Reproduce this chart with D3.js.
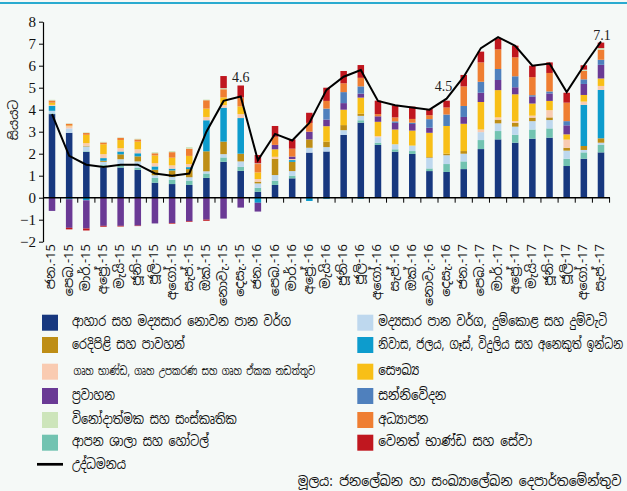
<!DOCTYPE html>
<html>
<head>
<meta charset="utf-8">
<script src="https://cdn.jsdelivr.net/npm/d3@7"></script>
<style>
  html, body { margin: 0; padding: 0; background: #f5f9f7; }
  svg { display: block; }
  .num { font-family: "Liberation Serif", "DejaVu Serif", serif; }
  .si { font-family: "Noto Sans Sinhala", "Iskoola Pota", "Noto Sans", "DejaVu Sans", sans-serif; }
</style>
</head>
<body>
<svg id="chart" width="627" height="491"></svg>
<script>
// Months, Jan 2015 – Sep 2017
const months = ["ජන.-15","පෙබ.-15","මාර්.-15","අප්‍රේ.-15","මැයි-15","ජූනි-15","ජූලි-15","අගෝ.-15","සැප්.-15","ඔක්.-15","නොවැ.-15","දෙසැ.-15",
  "ජන.-16","පෙබ.-16","මාර්.-16","අප්‍රේ.-16","මැයි-16","ජූනි-16","ජූලි-16","අගෝ.-16","සැප්.-16","ඔක්.-16","නොවැ.-16","දෙසැ.-16",
  "ජන.-17","පෙබ.-17","මාර්.-17","අප්‍රේ.-17","මැයි-17","ජූනි-17","ජූලි-17","අගෝ.-17","සැප්.-17"];

// Contributions to inflation by CCPI group (percentage points), in stacking order
const food =          [3.80,2.95,2.08,1.38,1.37,1.27,0.68,0.62,0.58,0.90,1.63,1.22, 0.27,0.58,0.88,2.05,2.10,2.85,3.41,2.40,2.09,1.99,1.21,1.17, 1.30,2.21,2.65,2.50,2.68,2.73,1.44,1.77,2.06];
const restaurants =   [0.03,0.00,0.03,0.10,0.10,0.08,0.22,0.20,0.20,0.20,0.20,0.18, 0.18,0.19,0.12,0.00,0.00,0.00,0.11,0.10,0.11,0.13,0.12,0.36, 0.35,0.41,0.38,0.36,0.42,0.42,0.33,0.29,0.34];
const alcohol =       [0.12,0.20,0.22,0.15,0.28,0.30,0.12,0.12,0.15,0.10,0.15,0.25, 0.20,0.26,0.21,0.22,0.20,0.22,0.20,0.25,0.23,0.25,0.49,0.40, 0.35,0.36,0.35,0.37,0.38,0.38,0.37,0.11,0.10];
const clothing =      [0.00,0.00,0.03,0.05,0.22,0.23,0.25,0.30,0.37,0.91,0.57,0.35, 0.08,0.74,0.42,0.38,0.25,0.23,0.10,0.00,0.00,0.00,0.03,0.07, 0.12,0.00,0.17,0.17,0.16,0.12,0.13,0.18,0.20];
const housing =       [0.22,-0.07,-0.12,0.12,0.13,0.14,0.15,0.08,0.09,1.41,1.54,1.62, -0.23,0.00,0.08,-0.15,-0.05,-0.03,-0.05,0.00,0.00,0.00,0.00,0.00, 0.00,0.00,0.00,0.00,0.00,0.00,0.00,1.87,2.20];
const furnishings =   [0.05,0.10,0.12,0.18,0.15,0.18,0.15,0.15,0.14,0.15,0.12,0.18, 0.12,0.09,0.05,0.00,0.00,0.00,0.00,0.05,0.00,0.00,0.00,0.00, 0.00,0.12,0.10,0.08,0.09,0.33,0.37,0.15,0.18];
const health =        [0.10,0.03,0.38,0.45,0.37,0.35,0.35,0.35,0.37,0.38,0.35,0.35, 0.30,0.34,0.00,0.00,0.70,0.70,0.73,0.65,0.67,0.68,1.10,1.26, 1.24,1.25,1.24,1.22,0.55,0.42,0.24,0.30,0.34];
const transport =     [-0.60,-1.30,-1.28,-1.28,-1.28,-1.27,-1.17,-1.15,-1.07,-1.00,-0.95,-0.45, -0.40,0.20,0.11,0.35,0.30,0.30,0.18,0.25,0.30,0.30,0.23,0.00, 0.31,0.42,0.46,0.32,0.32,0.34,0.41,0.50,0.62];
const communication = [0.00,0.00,0.00,0.00,0.00,0.00,0.00,0.00,0.00,0.00,0.00,0.00, 0.00,0.00,0.00,0.00,0.50,0.50,0.33,0.00,0.07,0.06,0.39,0.52, 0.50,0.50,0.50,0.50,0.06,0.09,0.19,0.21,0.23];
const education =     [0.10,0.08,0.08,0.08,0.10,0.10,0.10,0.25,0.33,0.38,0.37,0.38, 0.38,0.37,0.36,0.40,0.35,0.40,0.39,0.10,0.18,0.17,0.18,0.32, 0.89,0.88,0.89,0.86,0.82,0.84,0.84,0.38,0.46];
const recreation =    [0.03,0.02,0.03,0.03,0.02,0.03,0.05,0.05,0.07,0.03,0.05,0.02, 0.03,0.00,0.00,0.00,0.00,0.00,0.00,0.00,0.00,0.00,0.00,0.00, 0.00,0.00,0.00,0.00,0.00,0.00,0.00,0.06,0.07];
const misc =          [0.00,-0.07,-0.09,-0.04,-0.03,-0.02,0.00,-0.03,-0.03,-0.05,0.55,0.55, 0.38,0.49,0.42,0.46,0.60,0.56,0.58,0.61,0.55,0.56,0.28,0.31, 0.52,0.49,0.50,0.53,0.52,0.48,0.45,0.20,0.25];

// Year-on-year inflation (%)
const inflation = [3.8,1.9,1.5,1.4,1.5,1.5,1.1,1.0,1.1,3.0,4.4,4.6, 1.7,2.9,2.6,3.4,4.9,5.5,5.8,4.4,4.2,4.1,4.0,4.5, 5.5,6.8,7.3,6.9,6.0,6.1,4.8,6.0,7.1];
const yTicks = [-2,-1,0,1,2,3,4,5,6,7,8];
const labelled = [11, 23, 32];

const groups = [
  {key:"food",          name:"ආහාර සහ මද්‍යසාර නොවන පාන වර්ග", color:"#17387f", values:food},
  {key:"restaurants",   name:"ආපන ශාලා සහ හෝටල්", color:"#72c3b1", values:restaurants},
  {key:"alcohol",       name:"මද්‍යසාර පාන වර්ග, දුම්කොළ සහ දුම්වැටි", color:"#bed8ee", values:alcohol},
  {key:"clothing",      name:"රෙදිපිළි සහ පාවහන්", color:"#be8e16", values:clothing},
  {key:"housing",       name:"නිවාස, ජලය, ගෑස්, විදුලිය සහ අනෙකුත් ඉන්ධන", color:"#0d9ccd", values:housing},
  {key:"furnishings",   name:"ගෘහ භාණ්ඩ, ගෘහ උපකරණ සහ ගෘහ ඒකක නඩත්තුව", color:"#f9cbb1", values:furnishings},
  {key:"health",        name:"සෞඛ්‍ය", color:"#f8bf17", values:health},
  {key:"transport",     name:"ප්‍රවාහන", color:"#6a3a95", values:transport},
  {key:"communication", name:"සන්නිවේදන", color:"#4f80bd", values:communication},
  {key:"education",     name:"අධ්‍යාපන", color:"#ef7e32", values:education},
  {key:"recreation",    name:"විනෝදාත්මක සහ සංස්කෘතික", color:"#cde5bb", values:recreation},
  {key:"misc",          name:"වෙනත් භාණ්ඩ සහ සේවා", color:"#c0171f", values:misc}
];

const table = months.map((m, i) => {
  const row = {month: m};
  groups.forEach(g => row[g.key] = g.values[i]);
  return row;
});

const svg = d3.select("#chart");

// page frame: rule along the top
svg.append("rect").attr("x", 0).attr("y", 2).attr("width", 627).attr("height", 2).attr("fill", "#2aabd0");

const x = d3.scaleBand().domain(months).range([43, 610]).paddingInner(0.62).paddingOuter(0.335);
const y = d3.scaleLinear().domain([-2, 8]).range([241.7, 21.7]);

const series = d3.stack()
  .keys(groups.map(g => g.key))
  .offset(d3.stackOffsetDiverging)(table);

const colorOf = Object.fromEntries(groups.map(g => [g.key, g.color]));

svg.append("g").selectAll("g")
  .data(series).join("g")
  .attr("fill", s => colorOf[s.key])
  .selectAll("rect")
  .data(s => s.filter(d => d[1] !== d[0]))
  .join("rect")
  .attr("x", d => x(d.data.month))
  .attr("width", x.bandwidth())
  .attr("y", d => y(Math.max(d[0], d[1])))
  .attr("height", d => Math.abs(y(d[0]) - y(d[1])));

// Y axis
const yAxis = svg.append("g")
  .attr("transform", "translate(43,0)")
  .call(d3.axisLeft(y).tickValues(yTicks).tickSize(4).tickSizeOuter(0).tickFormat(d3.format("d")));
yAxis.select(".domain").attr("stroke", "#000").attr("stroke-width", 1.2);
yAxis.selectAll(".tick line").attr("stroke", "#000");
yAxis.selectAll(".tick text").attr("class", "num").attr("font-size", 15).attr("fill", "#111").attr("x", -7);

// Zero line with category boundary ticks
const z = y(0);
svg.append("line").attr("x1", 43).attr("x2", 610).attr("y1", z).attr("y2", z)
  .attr("stroke", "#000").attr("stroke-width", 1.6);
const step = x.step();
const bounds = months.map(m => x(m) + x.bandwidth() / 2 + step / 2);
svg.append("g").selectAll("line").data(bounds).join("line")
  .attr("x1", d => d).attr("x2", d => d).attr("y1", z).attr("y2", z + 5)
  .attr("stroke", "#000");

// Category labels, rotated
svg.append("g").selectAll("text").data(months).join("text")
  .attr("class", "si")
  .attr("font-size", 13)
  .attr("fill", "#111")
  .attr("text-anchor", "end")
  .attr("dominant-baseline", "middle")
  .attr("transform", m => `translate(${x(m) + x.bandwidth() / 2},244) rotate(-90)`)
  .text(m => m);

// Y axis title
svg.append("text").attr("class", "si")
  .attr("font-size", 12.5).attr("fill", "#111")
  .attr("text-anchor", "middle")
  .attr("transform", "translate(18,120) rotate(-90)")
  .text("සියයට");

// Inflation line
const line = d3.line()
  .x((d, i) => x(months[i]) + x.bandwidth() / 2)
  .y(d => y(d));
svg.append("path").datum(inflation)
  .attr("d", line).attr("fill", "none").attr("stroke", "#000").attr("stroke-width", 2);

// Value labels
const labelOffset = {11: [0, -14.5], 23: [-3, -7.3], 32: [1, -2]};
svg.append("g").selectAll("text").data(labelled).join("text")
  .attr("class", "num").attr("font-size", 14).attr("fill", "#222")
  .attr("text-anchor", "middle")
  .attr("x", i => x(months[i]) + x.bandwidth() / 2 + labelOffset[i][0])
  .attr("y", i => y(inflation[i]) + labelOffset[i][1])
  .text(i => d3.format(".1f")(inflation[i]));

// Text squeezed horizontally so that it runs a given length
function fittedText(parent, str, px, py, width, size) {
  const t = parent.append("text").attr("class", "si")
    .attr("font-size", size).attr("fill", "#111")
    .attr("dominant-baseline", "middle")
    .text(str);
  const w = t.node().getComputedTextLength();
  const sx = w > 0 ? width / w : 1;
  t.attr("transform", `translate(${px},${py}) scale(${sx},1)`);
  return t;
}

// Legend: two columns
const leftCol = ["food", "clothing", "furnishings", "transport", "recreation", "restaurants"];
const rightCol = ["alcohol", "housing", "health", "communication", "education", "misc"];
const labelWidth = {food:219, clothing:113, furnishings:242, transport:43, recreation:165, restaurants:137,
                    alcohol:229, housing:245, health:41, communication:68, education:50, misc:154};
const rowY = [322.7, 345, 371.7, 396, 420, 442.7];
const byKey = Object.fromEntries(groups.map(g => [g.key, g]));
const legend = svg.append("g");
[[leftCol, 42, 72], [rightCol, 357.3, 378.3]].forEach(([keys, sx, tx]) => {
  keys.forEach((k, j) => {
    legend.append("rect").attr("x", sx).attr("y", rowY[j] - 8).attr("width", 16).attr("height", 16)
      .attr("fill", byKey[k].color);
    const small = k === "furnishings";
    fittedText(legend, byKey[k].name, small ? tx + 1.5 : tx, rowY[j], labelWidth[k], small ? 12 : 14);
  });
});
legend.append("line").attr("x1", 37).attr("x2", 63).attr("y1", 464.3).attr("y2", 464.3)
  .attr("stroke", "#000").attr("stroke-width", 2.7);
fittedText(legend, "උද්ධමනය", 72, 465, 54, 14);

// Source note
fittedText(svg, "මූලය: ජනලේඛන හා සංඛ්‍යාලේඛන දෙපාර්තමේන්තුව", 297.7, 482, 324, 14);
</script>
</body>
</html>
